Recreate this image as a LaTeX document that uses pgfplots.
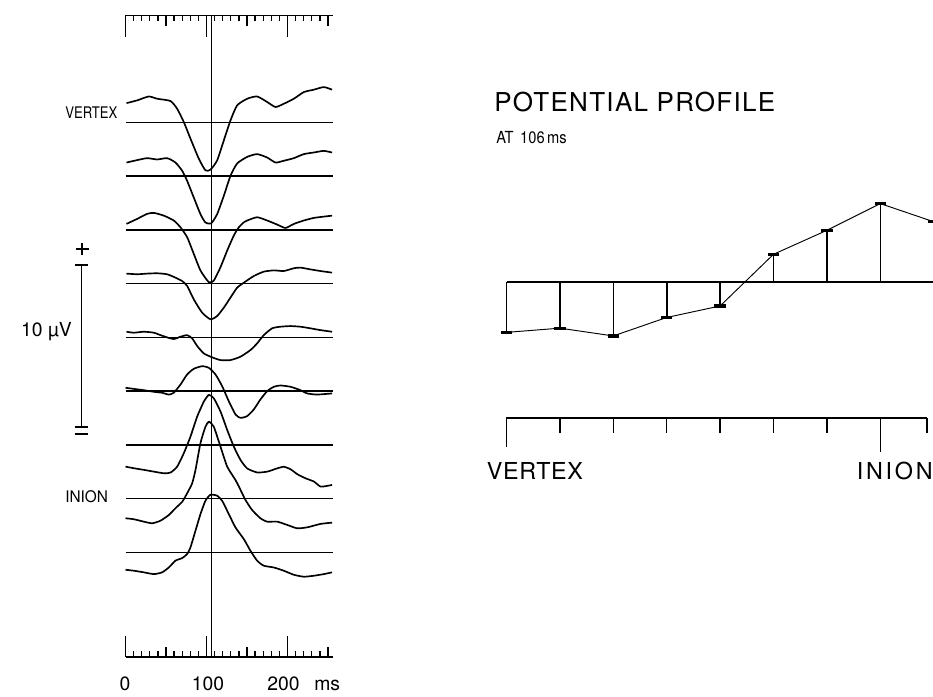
\documentclass[border=0pt]{standalone}
\usepackage{pgfplots}
\pgfplotsset{compat=1.18}
\usepackage{fontspec}
\setmainfont{TeX Gyre Heros}
\pgfplotsset{tr/.style={black,line width=1.25pt,line join=round,smooth,tension=0.35},bl/.style={black,line width=1pt}}
\begin{document}
\begin{tikzpicture}[x=0.75pt,y=0.75pt]
\useasboundingbox (0,0) rectangle (933,697);
% ---------------- left: traces ----------------
\begin{axis}[at={(94.125pt,30pt)},anchor=south west,scale only axis,
  width=155.52pt,height=481.14pt,xmin=0,xmax=256,ymin=-33,ymax=6.6,
  hide axis,clip=false]
% baselines
\addplot[bl] coordinates {(0,0)(256,0)};
\addplot[bl] coordinates {(0,-3.318)(256,-3.318)};
\addplot[bl] coordinates {(0,-6.636)(256,-6.636)};
\addplot[bl] coordinates {(0,-9.954)(256,-9.954)};
\addplot[bl] coordinates {(0,-13.272)(256,-13.272)};
\addplot[bl] coordinates {(0,-16.59)(256,-16.59)};
\addplot[bl] coordinates {(0,-19.908)(256,-19.908)};
\addplot[bl] coordinates {(0,-23.226)(256,-23.226)};
\addplot[bl] coordinates {(0,-26.544)(256,-26.544)};
% trace 1
\addplot[tr] coordinates {(1.2,1.19)(14.4,1.36)(28.8,1.60)(39.1,1.46)(55.5,1.32)(63.8,0.84)(72.0,0.02)(80.2,-1.00)(90.5,-2.24)(98.7,-2.96)(104.9,-2.92)(113.1,-2.35)(121.4,-1.11)(129.6,0.12)(137.8,1.05)(150.2,1.46)(162.5,1.60)(174.9,1.26)(185.2,0.95)(195.4,1.15)(207.8,1.46)(220.1,1.87)(232.5,2.02)(244.8,2.18)(255,2.02)};
% trace 2
\addplot[tr,y filter/.expression={y-3.318}] coordinates {(1.2,0.84)(14.4,0.99)(26.7,1.11)(39.1,1.03)(51.4,1.11)(61.7,0.84)(70.0,0.33)(76.1,-0.29)(84.3,-1.32)(92.6,-2.35)(98.7,-2.86)(105.7,-2.92)(113.1,-2.35)(121.4,-1.21)(129.6,0.02)(137.8,0.78)(150.2,1.19)(162.5,1.36)(174.9,1.15)(185.2,0.84)(195.4,0.95)(207.8,1.11)(220.1,1.36)(232.5,1.46)(244.8,1.56)(255,1.46)};
% trace 3
\addplot[tr,y filter/.expression={y-6.636}] coordinates {(1.2,0.37)(14.4,0.68)(26.7,0.99)(35.0,1.05)(47.3,0.88)(59.6,0.58)(67.9,0.16)(76.1,-0.45)(84.3,-1.48)(92.6,-2.51)(102.9,-3.23)(109.0,-3.13)(117.3,-2.30)(125.5,-1.28)(133.7,-0.35)(139.9,0.16)(146.1,0.47)(150.2,0.58)(162.5,0.78)(174.9,0.58)(187.2,0.33)(197.5,0.12)(207.8,0.37)(220.1,0.58)(232.5,0.74)(244.8,0.82)(255,0.88)};
% trace 4
\addplot[tr,y filter/.expression={y-9.954}] coordinates {(1.2,0.62)(14.4,0.58)(26.7,0.62)(39.1,0.64)(51.4,0.58)(61.7,0.37)(70.0,0.16)(76.1,-0.14)(84.3,-0.97)(94.6,-1.79)(104.9,-2.20)(113.1,-2.00)(121.4,-1.48)(129.6,-0.86)(137.8,-0.25)(146.1,0.06)(158.4,0.47)(170.7,0.74)(183.1,0.82)(195.4,0.78)(207.8,0.95)(216.0,0.99)(228.4,0.88)(240.7,0.78)(255,0.68)};
% trace 5
\addplot[tr,y filter/.expression={y-13.272}] coordinates {(1.2,0.35)(10.3,0.29)(22.6,0.35)(35.0,0.29)(43.2,0.14)(51.4,0.00)(59.6,-0.10)(67.9,0.04)(76.1,0.14)(82.3,-0.06)(88.5,-0.53)(96.7,-0.99)(107.0,-1.23)(117.3,-1.40)(129.6,-1.40)(142.0,-1.19)(154.3,-0.78)(162.5,-0.37)(170.7,0.14)(181.0,0.56)(191.3,0.66)(203.7,0.70)(216.0,0.66)(228.4,0.56)(240.7,0.45)(255,0.35)};
% trace 6
\addplot[tr,y filter/.expression={y-16.59}] coordinates {(0,0.21)(10.3,0.14)(22.6,0.06)(35.0,-0.04)(45.2,-0.10)(53.5,-0.21)(59.6,-0.10)(67.9,0.41)(76.1,1.03)(84.3,1.38)(94.6,1.54)(102.9,1.44)(111.1,1.03)(119.3,0.31)(127.5,-0.62)(135.8,-1.44)(142.0,-1.65)(150.2,-1.54)(158.4,-1.13)(166.6,-0.51)(174.9,0.00)(183.1,0.27)(191.3,0.35)(203.7,0.27)(216.0,0.06)(224.3,-0.14)(236.6,-0.21)(255,-0.14)};
% trace 7
\addplot[tr,y filter/.expression={y-19.908}] coordinates {(0,-1.34)(10.3,-1.44)(22.6,-1.54)(35.0,-1.65)(47.3,-1.75)(55.5,-1.71)(63.8,-1.34)(72.0,-0.51)(80.2,0.51)(88.5,1.75)(96.7,2.67)(102.9,3.09)(109.0,2.88)(117.3,2.06)(125.5,0.93)(133.7,-0.10)(142.0,-0.93)(150.2,-1.45)(162.5,-1.70)(174.9,-1.65)(187.2,-1.45)(195.4,-1.35)(203.7,-1.50)(211.9,-1.80)(222.2,-2.06)(232.5,-2.26)(240.7,-2.57)(249.0,-2.53)(255,-2.47)};
% trace 8
\addplot[tr,y filter/.expression={y-23.226}] coordinates {(0,-1.21)(10.3,-1.27)(22.6,-1.42)(32.9,-1.52)(43.2,-1.36)(53.5,-1.01)(61.7,-0.59)(70.0,-0.19)(76.1,0.33)(82.3,0.95)(86.4,1.77)(92.6,3.44)(98.7,4.44)(102.9,4.75)(109.0,4.44)(117.3,3.21)(125.5,1.98)(135.8,1.15)(142.0,0.54)(148.1,-0.08)(156.3,-0.70)(166.6,-1.21)(174.9,-1.42)(187.2,-1.42)(199.6,-1.62)(211.9,-1.83)(224.3,-1.77)(240.7,-1.56)(255,-1.48)};
% trace 9
\addplot[tr,y filter/.expression={y-26.544}] coordinates {(0,-1.07)(10.3,-1.13)(22.6,-1.23)(35.0,-1.34)(45.2,-1.23)(53.5,-0.93)(61.7,-0.51)(70.0,-0.35)(76.1,-0.10)(80.2,0.31)(86.4,1.34)(92.6,2.37)(98.7,3.19)(104.9,3.56)(113.1,3.50)(119.3,3.19)(127.5,2.37)(135.8,1.54)(146.1,0.82)(154.3,0.10)(162.5,-0.51)(170.7,-0.82)(183.1,-0.93)(195.4,-1.13)(207.8,-1.38)(220.1,-1.50)(232.5,-1.44)(244.8,-1.34)(255,-1.23)};
% marker line at 106 ms
\addplot[black,line width=1pt] coordinates {(106,-33)(106,6.6)};
\end{axis}
% ---------------- right: potential profile ----------------
\begin{axis}[at={(379.875pt,165.45pt)},anchor=south west,scale only axis,
  width=320.4pt,height=218.7pt,xmin=0,xmax=8,ymin=-12,ymax=6,
  hide axis,clip=false]
\addplot[black,line width=1.7pt] coordinates {(0,0)(8.4,0)};
\addplot[black,ycomb,line width=1.2pt] coordinates {(0,-3.11)(1,-2.85)(2,-3.33)(3,-2.19)(4,-1.48)(5,1.71)(6,3.19)(7,4.84)(8,3.72)};
\addplot[black,line width=0.7pt,mark=-,mark size=4.3pt,mark options={line width=2.4pt}] coordinates {(0,-3.11)(1,-2.85)(2,-3.33)(3,-2.19)(4,-1.48)(5,1.71)(6,3.19)(7,4.84)(8,3.72)};
\end{axis}
% ---------------- rulers, scale bar, labels (pixel frame) ----------------
\begin{scope}[shift={(0,697)},yscale=-1,line cap=butt]
 % top ruler
 \draw[line width=1.2pt] (125.5,15.5) -- (333,15.5);
 \foreach \t in {0,10,...,250} \draw[line width=1pt] ({125.5+0.81*\t},15.5) -- ++(0,6);
 \foreach \t in {50,150,250} \draw[line width=1pt] ({125.5+0.81*\t},15.5) -- ++(0,10.5);
 \foreach \t in {0,100,200} \draw[line width=1pt] ({125.5+0.81*\t},15.5) -- ++(0,21.5);
 % bottom ruler
 \draw[line width=1.2pt] (125.5,657) -- (333,657);
 \foreach \t in {0,10,...,250} \draw[line width=1pt] ({125.5+0.81*\t},657) -- ++(0,-5.5);
 \foreach \t in {50,150,250} \draw[line width=1pt] ({125.5+0.81*\t},657) -- ++(0,-10);
 \foreach \t in {0,100,200} \draw[line width=1pt] ({125.5+0.81*\t},657) -- ++(0,-20.5);
 % scale bar
 \draw[line width=1.1pt] (81.5,265) -- (81.5,427);
 \draw[line width=1.7pt] (75,265) -- (88,265);
 \draw[line width=1.7pt] (74.5,427) -- (87.5,427);
 \draw[line width=1.7pt] (74.5,434) -- (87.5,434);
 \draw[line width=1.7pt] (75.5,249) -- (88.5,249);
 \draw[line width=1.7pt] (82,243) -- (82,255);
 % right ruler
 \draw[line width=1.4pt] (506,418.3) -- (927,418.3);
 \foreach \i in {1,...,6} \draw[line width=1.1pt] ({506.5+53.4*\i},418.3) -- ++(0,14.5);
 \draw[line width=1.1pt] (927,418.3) -- ++(0,14.5);
 \draw[line width=1.1pt] (506.5,418.3) -- ++(0,28.5);
 \draw[line width=1.1pt] (880.3,418.3) -- ++(0,33.5);
 % labels
 \node[anchor=west,inner sep=0,font=\fontsize{12}{14}\selectfont] at (65,113) {\scalebox{0.82}[1]{VERTEX}};
 \node[anchor=west,inner sep=0,font=\fontsize{12}{14}\selectfont] at (65,497) {\scalebox{0.96}[1]{INION}};
 \node[anchor=east,inner sep=0,font=\fontsize{14.5}{16}\selectfont] at (72,332) {10 µV};
 \node[inner sep=0,font=\fontsize{14.5}{16}\selectfont] at (125,684) {0};
 \node[inner sep=0,font=\fontsize{14.5}{16}\selectfont] at (208,684) {100};
 \node[inner sep=0,font=\fontsize{14.5}{16}\selectfont] at (283.5,684) {200};
 \node[anchor=west,inner sep=0,font=\fontsize{14.5}{16}\selectfont] at (314,685) {ms};
 \node[anchor=west,inner sep=0,font=\fontsize{19.5}{21}\selectfont\addfontfeatures{LetterSpace=5}] at (494,102) {POTENTIAL PROFILE};
 \node[anchor=west,inner sep=0,font=\fontsize{12.5}{14}\selectfont] at (496,138) {\scalebox{0.88}[1]{AT\hspace{0.45em}106\,ms}};
 \node[anchor=west,inner sep=0,font=\fontsize{17.5}{19}\selectfont\addfontfeatures{LetterSpace=3}] at (486.5,471) {VERTEX};
 \node[anchor=west,inner sep=0,font=\fontsize{17.5}{19}\selectfont\addfontfeatures{LetterSpace=12}] at (856.5,471) {INION};
\end{scope}
\end{tikzpicture}
\end{document}
